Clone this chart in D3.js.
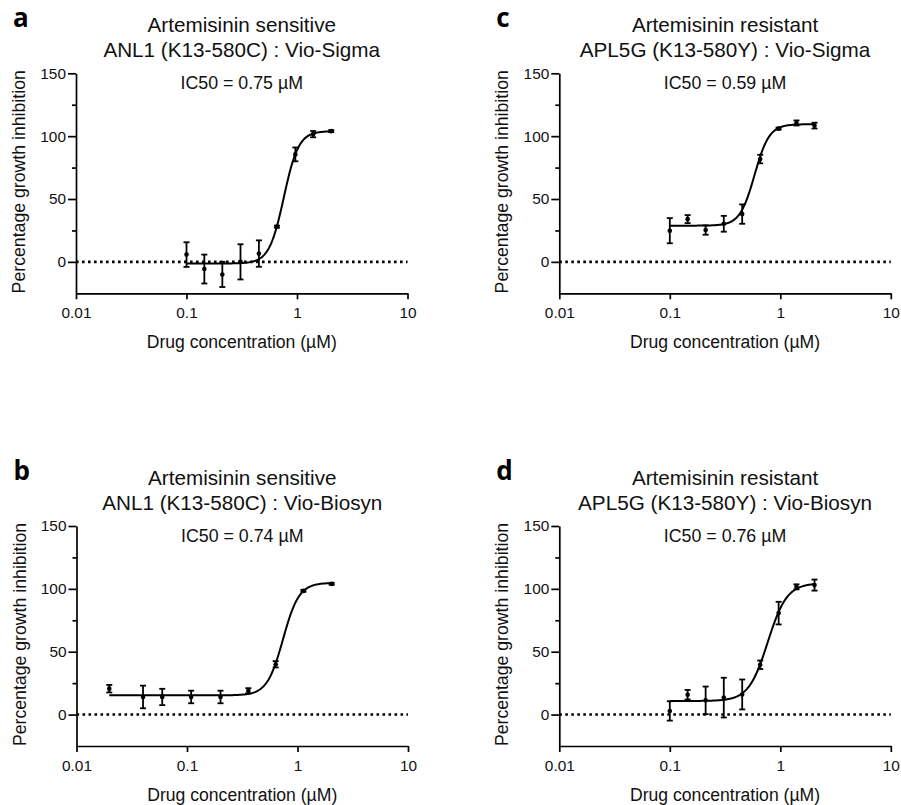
<!DOCTYPE html>
<html>
<head>
<meta charset="utf-8">
<script src="https://cdn.jsdelivr.net/npm/d3@7"></script>
<style>
    body { margin: 0; background: #fff; }
    svg text { font-family: "Liberation Sans", Arial, sans-serif; fill: #111; }
</style>
</head>
<body>
<div id="chart"></div>
<script>
// drug concentrations (uM) of the dilution series
const concA = [0.1, 0.145, 0.211, 0.308, 0.452, 0.658, 0.966, 1.40, 2.04];
const concB = [0.0198, 0.04, 0.0597, 0.109, 0.201, 0.359, 0.635, 1.13, 2.04];
const concC = [0.1, 0.145, 0.211, 0.308, 0.452, 0.658, 0.966, 1.40, 2.04];
const concD = [0.1, 0.145, 0.211, 0.308, 0.452, 0.658, 0.966, 1.40, 2.04];

// mean percentage growth inhibition and error (+/-)
const meanA = [5.8, -5.7, -10, 0, 6.6, 28, 85.5, 101.6, 104];
const errA = [9.8, 11.5, 10, 14, 10.5, 0.8, 5.5, 2.5, 0.8];
const meanB = [20.6, 14, 14, 14, 14, 19, 40, 98.4, 104];
const errB = [3, 9, 6.5, 5, 5, 2, 2.5, 0.8, 0.8];
const meanC = [24.8, 34, 25.3, 30.3, 38, 81.8, 106, 110.5, 108.4];
const errC = [10, 3.2, 3.7, 6.3, 7.7, 3.4, 0.8, 2, 2.3];
const meanD = [2.9, 15.8, 11.3, 13.5, 16, 39.6, 80.7, 101.6, 103];
const errD = [7.7, 3.8, 11, 15.8, 11.9, 3.4, 9, 2, 4.4];

// fitted curve: bottom, top, IC50, hill slope
const fitA = [-1.3, 104, 0.76, 6.5];
const fitB = [15.3, 104.8, 0.74, 6];
const fitC = [28.8, 109.5, 0.585, 6.5];
const fitD = [10.8, 104.5, 0.77, 5];

const letters = ["a", "b", "c", "d"];
const titleTop = ["Artemisinin sensitive", "Artemisinin sensitive", "Artemisinin resistant", "Artemisinin resistant"];
const titleBottom = ["ANL1 (K13-580C) : Vio-Sigma", "ANL1 (K13-580C) : Vio-Biosyn", "APL5G (K13-580Y) : Vio-Sigma", "APL5G (K13-580Y) : Vio-Biosyn"];
const ic50Labels = ["IC50 = 0.75 \u00b5M", "IC50 = 0.74 \u00b5M", "IC50 = 0.59 \u00b5M", "IC50 = 0.76 \u00b5M"];

const xTicks = [0.01, 0.1, 1, 10];
const yTicks = [0, 50, 100, 150];
const yMinorTicks = [25, 75, 125];

const panels = [
    { conc: concA, mean: meanA, err: errA, fit: fitA, left: 76, top: 73.3 },
    { conc: concB, mean: meanB, err: errB, fit: fitB, left: 76.5, top: 526 },
    { conc: concC, mean: meanC, err: errC, fit: fitC, left: 559.3, top: 73.3 },
    { conc: concD, mean: meanD, err: errD, fit: fitD, left: 559.3, top: 526 }
];

const width = 901;
const height = 805;
const plotW = 331.5;
const plotH = 220;

const svg = d3.select("#chart")
    .append("svg")
    .attr("width", width)
    .attr("height", height);

const x = d3.scaleLog().domain([0.01, 10]).range([0, plotW]);
const y = d3.scaleLinear().domain([-25, 150]).range([plotH, 0]);

function logistic(fit, c) {
    const [bottom, top, ic50, hill] = fit;
    return bottom + (top - bottom) / (1 + Math.pow(ic50 / c, hill));
}

panels.forEach((p, i) => {
    const g = svg.append("g")
        .attr("transform", "translate(" + p.left + "," + p.top + ")");

    // panel letter
    svg.append("text")
        .attr("x", p.left - 63)
        .attr("y", p.top - 46)
        .style("font-family", "'Open Sans', 'DejaVu Sans', sans-serif")
        .style("font-weight", "700")
        .style("font-size", "26px")
        .style("fill", "#000")
        .text(letters[i]);

    // titles
    g.append("text")
        .attr("x", plotW / 2)
        .attr("y", -41)
        .attr("text-anchor", "middle")
        .style("font-size", "20.7px")
        .text(titleTop[i]);
    g.append("text")
        .attr("x", plotW / 2)
        .attr("y", -16.3)
        .attr("text-anchor", "middle")
        .style("font-size", "20.7px")
        .text(titleBottom[i]);
    g.append("text")
        .attr("x", plotW / 2)
        .attr("y", 16)
        .attr("text-anchor", "middle")
        .style("font-size", "17.8px")
        .text(ic50Labels[i]);

    // zero line
    g.append("line")
        .attr("x1", 0)
        .attr("x2", plotW)
        .attr("y1", y(0))
        .attr("y2", y(0))
        .attr("stroke", "#000")
        .attr("stroke-width", 2.6)
        .attr("stroke-dasharray", "2.6 3.4");

    // axes
    g.append("g")
        .call(d3.axisLeft(y).tickValues(yTicks).tickSize(8).tickPadding(2).tickSizeOuter(0));
    g.append("g")
        .call(d3.axisLeft(y).tickValues(yMinorTicks).tickSize(4).tickFormat("").tickSizeOuter(0))
        .select(".domain").remove();
    g.append("g")
        .attr("transform", "translate(0," + plotH + ")")
        .call(d3.axisBottom(x).tickValues(xTicks).tickFormat(d => String(d)).tickSize(6).tickPadding(8).tickSizeOuter(0));

    g.selectAll(".domain, .tick line")
        .attr("stroke", "#000")
        .attr("stroke-width", 1.7);
    g.selectAll(".tick text")
        .style("font-family", "'Liberation Sans', Arial, sans-serif")
        .style("font-size", "15.4px")
        .attr("fill", "#222");

    // axis titles
    g.append("text")
        .attr("x", plotW / 2)
        .attr("y", plotH + 54.7)
        .attr("text-anchor", "middle")
        .style("font-size", "17.6px")
        .text("Drug concentration (\u00b5M)");
    g.append("text")
        .attr("transform", "translate(-51," + (plotH / 2 - 1.5) + ") rotate(-90)")
        .attr("text-anchor", "middle")
        .style("font-size", "17.7px")
        .text("Percentage growth inhibition");

    // fitted curve over the measured range
    const lo = Math.log10(d3.min(p.conc));
    const hi = Math.log10(d3.max(p.conc));
    const curvePts = d3.range(0, 201).map(k => Math.pow(10, lo + (hi - lo) * k / 200));
    g.append("path")
        .datum(curvePts)
        .attr("fill", "none")
        .attr("stroke", "#000")
        .attr("stroke-width", 2)
        .attr("d", d3.line().x(c => x(c)).y(c => y(logistic(p.fit, c))));

    const data = p.conc.map((c, k) => ({ c: c, m: p.mean[k], e: p.err[k] }));

    // error bars
    const bars = g.selectAll(".bar")
        .data(data)
        .enter()
        .append("g")
        .attr("class", "bar")
        .attr("stroke", "#000")
        .attr("stroke-width", 1.8);
    bars.append("line")
        .attr("x1", d => x(d.c))
        .attr("x2", d => x(d.c))
        .attr("y1", d => y(d.m + d.e))
        .attr("y2", d => y(d.m - d.e));
    bars.append("line")
        .attr("x1", d => x(d.c) - 3)
        .attr("x2", d => x(d.c) + 3)
        .attr("y1", d => y(d.m + d.e))
        .attr("y2", d => y(d.m + d.e));
    bars.append("line")
        .attr("x1", d => x(d.c) - 3)
        .attr("x2", d => x(d.c) + 3)
        .attr("y1", d => y(d.m - d.e))
        .attr("y2", d => y(d.m - d.e));

    // points
    g.selectAll(".dot")
        .data(data)
        .enter()
        .append("circle")
        .attr("class", "dot")
        .attr("cx", d => x(d.c))
        .attr("cy", d => y(d.m))
        .attr("r", 2.3)
        .attr("fill", "#000");
});
</script>
</body>
</html>
